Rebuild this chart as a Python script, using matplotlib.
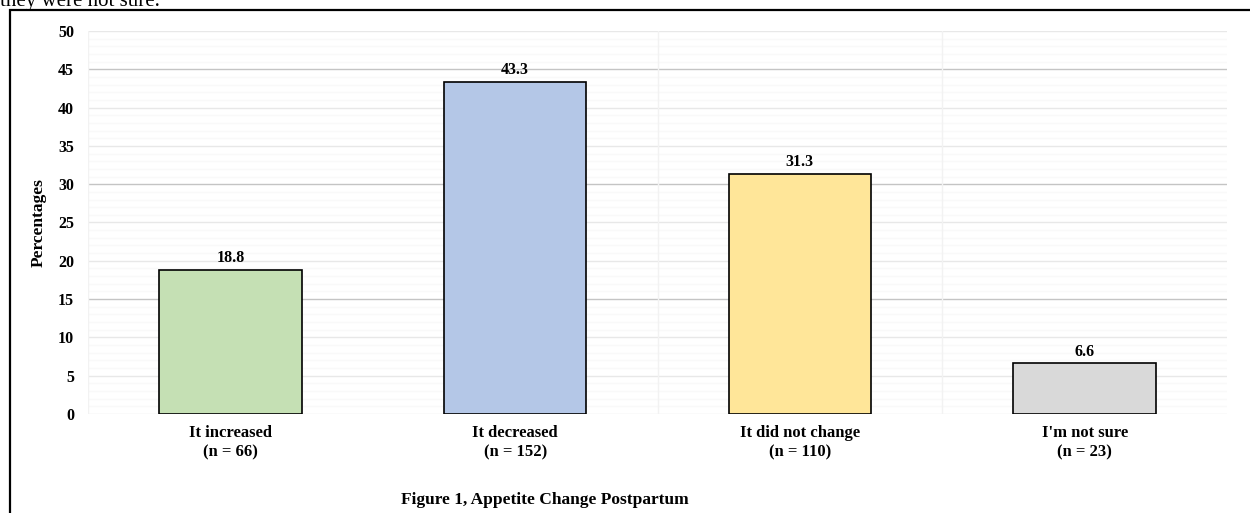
import matplotlib.pyplot as plt
from matplotlib.patches import Rectangle
import numpy as np

categories = ["It increased", "It decreased", "It did not change", "I'm not sure"]
counts = [66, 152, 110, 23]
percentages = [18.8, 43.3, 31.3, 6.6]
bar_colors = ["#c5e0b4", "#b4c7e7", "#ffe699", "#d9d9d9"]

plt.rcParams['font.family'] = ['Liberation Serif', 'DejaVu Serif']

fig = plt.figure(figsize=(12.5, 5.13), dpi=100)
ax = fig.add_axes([0.0704, 0.193, 0.9112, 0.7466])

x = np.arange(len(categories))

# faint minor grid, light grid every 5, darker every 15
for v in np.arange(0, 51, 1):
    if v % 15 == 0 and v > 0:
        c = "#c4c4c4"
    elif v % 5 == 0:
        c = "#e8e8e8"
    else:
        c = "#f9f9f9"
    ax.axhline(v, color=c, lw=1.0, zorder=0)
for xv in [-0.5, 1.5, 2.5]:
    ax.axvline(xv, color="#f2f2f2", lw=1.0, zorder=0)

bars = ax.bar(x, percentages, width=0.5, color=bar_colors,
              edgecolor="black", linewidth=1.2, zorder=2)
for xi, p in zip(x, percentages):
    ax.text(xi, p + 0.5, f"{p}", ha="center", va="bottom",
            fontsize=11.5, fontweight="bold")

ax.set_xlim(-0.5, 3.5)
ax.set_ylim(0, 50)
ax.set_yticks(np.arange(0, 51, 5))
ax.set_xticks(x)
ax.set_xticklabels([f"{c}\n(n = {n})" for c, n in zip(categories, counts)],
                   fontsize=12, fontweight="bold", linespacing=1.25)
for lbl in ax.get_yticklabels():
    lbl.set_fontweight("bold")
    lbl.set_fontsize(11.5)
ax.tick_params(axis="both", length=0)
ax.tick_params(axis="y", pad=10)
ax.tick_params(axis="x", pad=8)
for s in ax.spines.values():
    s.set_visible(False)

ax.set_ylabel("Percentages", fontsize=12.5, fontweight="bold", labelpad=8)

fig.text(545 / 1250, 1 - 500 / 513, "Figure 1, Appetite Change Postpartum",
         ha="center", va="center", fontsize=12.5, fontweight="bold")

# running text above the figure frame
fig.text(0.0, 1 - 6 / 513, "they were not sure.", ha="left", va="baseline",
         fontsize=15)

# figure frame
fig.add_artist(Rectangle((10 / 1250, -0.2), 1.2, 1 - 10 / 513 + 0.2,
                         transform=fig.transFigure, fill=False,
                         edgecolor="black", linewidth=1.6, clip_on=False))

fig.savefig("out.png", dpi=100)
